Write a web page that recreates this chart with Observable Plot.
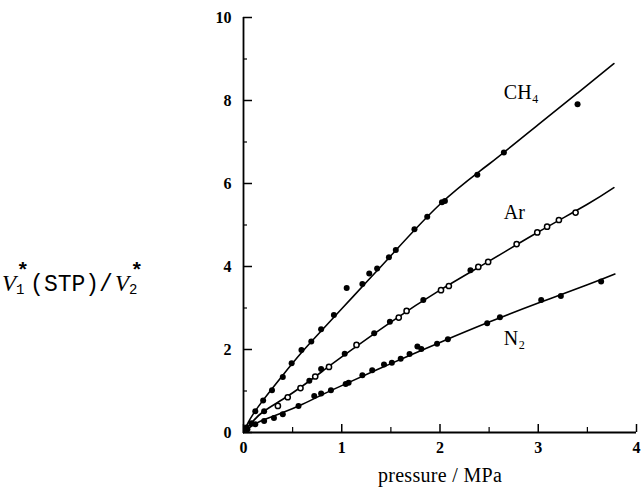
<!DOCTYPE html>
<html><head><meta charset="utf-8">
<script src="https://cdn.jsdelivr.net/npm/d3@7"></script>
<script src="https://cdn.jsdelivr.net/npm/@observablehq/plot@0.6"></script>
<style>body{margin:0;background:#fff} #chart{width:641px;height:488px}</style>
</head><body><div id="chart"></div>
<script>
// CH4 measured points
const ch4X = [0.03,0.12,0.20,0.29,0.40,0.49,0.59,0.69,0.79,0.92,1.05,1.21,1.28,1.36,1.48,1.55,1.74,1.87,2.02,2.05,2.38,2.65,3.40];
const ch4Y = [0.12,0.51,0.77,1.02,1.34,1.67,1.99,2.19,2.49,2.83,3.48,3.58,3.83,3.95,4.22,4.40,4.90,5.20,5.55,5.58,6.21,6.75,7.91];
// Ar measured points (open and filled symbols)
const arOpenX = [0.35,0.45,0.58,0.73,0.87,1.15,1.58,1.66,2.01,2.09,2.39,2.49,2.78,2.99,3.09,3.21,3.38];
const arOpenY = [0.64,0.85,1.07,1.35,1.58,2.11,2.77,2.93,3.43,3.53,3.99,4.11,4.54,4.82,4.96,5.12,5.30];
const arFillX = [0.08,0.21,0.67,0.79,1.03,1.33,1.49,1.83,2.31];
const arFillY = [0.22,0.51,1.25,1.53,1.90,2.39,2.67,3.19,3.91];
// N2 measured points
const n2X = [0.04,0.12,0.21,0.31,0.40,0.56,0.72,0.79,0.89,1.04,1.07,1.21,1.31,1.43,1.51,1.60,1.69,1.77,1.81,1.97,2.08,2.48,2.61,3.03,3.23,3.64];
const n2Y = [0.08,0.20,0.28,0.35,0.44,0.64,0.88,0.94,1.02,1.17,1.20,1.38,1.50,1.64,1.68,1.78,1.89,2.07,2.01,2.14,2.25,2.63,2.78,3.19,3.29,3.64];
// fitted curves
const ch4FitX = [0,0.05,0.1,0.2,0.4,0.6,0.8,1.0,1.25,1.5,2.0,2.5,3.0,3.4,3.77];
const ch4FitY = [0,0.25,0.45,0.78,1.38,1.95,2.47,2.98,3.62,4.26,5.50,6.47,7.42,8.18,8.89];
const arFitX = [0,0.05,0.1,0.2,0.4,0.6,0.8,1.0,1.5,2.0,2.5,3.0,3.5,3.77];
const arFitY = [0,0.15,0.28,0.5,0.8,1.12,1.47,1.82,2.66,3.43,4.13,4.83,5.5,5.9];
const n2FitX = [0,0.05,0.1,0.2,0.4,0.6,0.8,1.0,1.5,2.0,2.5,3.0,3.5,3.78];
const n2FitY = [0,0.1,0.18,0.3,0.48,0.68,0.91,1.13,1.66,2.17,2.66,3.12,3.56,3.82];
// tick labels
const xTicks = [0,1,2,3,4];
const xMinor = [0.5,1.5,2.5,3.5];
const yTicks = [0,2,4,6,8,10];
const yMinor = [1,3,5,7,9];
// curve labels
const labelText = ["CH₄","Ar","N₂"];
const labelX = [2.65,2.65,2.65];
const labelY = [8.2,5.3,2.26];

const zip = (xs, ys) => xs.map((x, i) => ({x, y: ys[i]}));
const labels = labelText.map((t, i) => ({t, x: labelX[i], y: labelY[i]}));
const serif = "'Liberation Serif', 'DejaVu Serif', serif";

const plot = Plot.plot({
  width: 641, height: 488,
  marginLeft: 243, marginRight: 5, marginTop: 17, marginBottom: 56,
  style: {fontFamily: serif, background: "#fff", color: "#000"},
  x: {domain: [0, 4]},
  y: {domain: [0, 10]},
  marks: [
    Plot.axisX({ticks: xTicks, tickSize: 8, dy: -8, tickFormat: () => "", strokeWidth: 1.5, label: null}),
    Plot.axisX({ticks: xMinor, tickSize: 5, dy: -5, tickFormat: () => "", strokeWidth: 1.2, label: null}),
    Plot.axisX({ticks: xTicks, tickSize: 0, tickPadding: 9, tickFormat: d3.format("d"), fontSize: 16, fontWeight: "bold", label: null}),
    Plot.axisY({ticks: yTicks, tickSize: 9, dx: 9, tickFormat: () => "", strokeWidth: 1.5, label: null}),
    Plot.axisY({ticks: yMinor, tickSize: 4, dx: 4, tickFormat: () => "", strokeWidth: 1.2, label: null}),
    Plot.axisY({ticks: yTicks, tickSize: 0, tickPadding: 12, tickFormat: d3.format("d"), fontSize: 16, fontWeight: "bold", label: null}),
    Plot.ruleX([0], {y1: 0, y2: 10, strokeWidth: 1.8}),
    Plot.ruleY([0], {x1: 0, x2: 4, strokeWidth: 1.8}),
    Plot.line(zip(ch4FitX, ch4FitY), {x: "x", y: "y", curve: "natural", strokeWidth: 1.6}),
    Plot.line(zip(arFitX, arFitY), {x: "x", y: "y", curve: "natural", strokeWidth: 1.6}),
    Plot.line(zip(n2FitX, n2FitY), {x: "x", y: "y", curve: "natural", strokeWidth: 1.6}),
    Plot.dot(zip(ch4X, ch4Y), {x: "x", y: "y", r: 3, fill: "#000", stroke: "none"}),
    Plot.dot(zip(n2X, n2Y), {x: "x", y: "y", r: 3, fill: "#000", stroke: "none"}),
    Plot.dot(zip(arFillX, arFillY), {x: "x", y: "y", r: 3, fill: "#000", stroke: "none"}),
    Plot.dot(zip(arOpenX, arOpenY), {x: "x", y: "y", r: 2.6, fill: "#fff", stroke: "#000", strokeWidth: 1.5}),
    Plot.text(labels, {x: "x", y: "y", text: "t", textAnchor: "start", fontSize: 20, fontFamily: serif})
  ]
});
document.getElementById("chart").appendChild(plot);

const svg = d3.select(plot);
svg.append("text")
  .attr("x", 440).attr("y", 482).attr("text-anchor", "middle")
  .attr("font-family", serif).attr("font-size", 20).attr("letter-spacing", 0.3).text("pressure / MPa");

const yl = svg.append("text").attr("x", 2).attr("y", 291).attr("text-anchor", "start")
  .attr("font-family", "'Liberation Mono', 'DejaVu Sans Mono', monospace").attr("font-size", 23);
yl.append("tspan").attr("font-family", serif).attr("font-style", "italic").attr("font-size", 23).text("V");
yl.append("tspan").attr("font-size", 14).attr("dy", 3).text("1");
yl.append("tspan").attr("font-size", 21).attr("dy", -17).attr("dx", -8).attr("font-weight", "bold").text("*");
yl.append("tspan").attr("dy", 14).attr("dx", 1).text("(STP)/");
yl.append("tspan").attr("font-family", serif).attr("font-style", "italic").attr("font-size", 23).attr("dx", 2).text("V");
yl.append("tspan").attr("font-size", 14).attr("dy", 3).text("2");
yl.append("tspan").attr("font-size", 21).attr("dy", -17).attr("dx", -7).attr("font-weight", "bold").text("*");
</script>
</body></html>
